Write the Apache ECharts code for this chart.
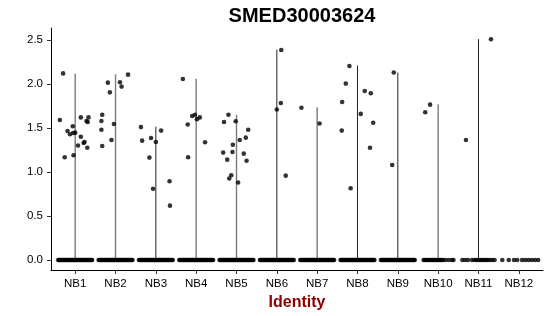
<!DOCTYPE html>
<html>
<head>
<meta charset="utf-8">
<script src="https://cdn.jsdelivr.net/npm/echarts@6/dist/echarts.min.js"></script>
<style>html,body{margin:0;padding:0;background:#fff}#c{width:550px;height:316px}</style>
</head>
<body>
<div id="c"></div>
<script>
// ---- data ----
const categories = ['NB1','NB2','NB3','NB4','NB5','NB6','NB7','NB8','NB9','NB10','NB11','NB12'];
const violinMax = [2.12, 2.11, 1.515, 2.06, 1.65, 2.39, 1.735, 2.21, 2.13, 1.77, 2.51, 0];
const violinDark = [0,0,1,0,0,1,0,1,1,0,1,0];
const yTicks = [0, 0.5, 1.0, 1.5, 2.0, 2.5];

// expressing points: [jitter offset, value]
const ptsNB1 = [[-0.30,2.12],[-0.38,1.59],[-0.19,1.466],[-0.13,1.428],[-0.06,1.519],[-0.05,1.443],[0.0,1.447],[0.14,1.40],[0.14,1.62],[0.28,1.58],[0.31,1.568],[0.33,1.62],[0.07,1.30],[0.21,1.33],[0.23,1.34],[0.30,1.276],[-0.26,1.167],[-0.04,1.19]];
const ptsNB2 = [[-0.19,2.015],[-0.14,1.905],[0.11,2.02],[0.15,1.97],[0.31,2.106],[-0.33,1.65],[-0.35,1.58],[-0.35,1.48],[-0.33,1.295],[-0.04,1.545],[-0.10,1.364]];
const ptsNB3 = [[-0.37,1.51],[-0.34,1.356],[-0.12,1.386],[0.0,1.34],[0.13,1.47],[-0.16,1.163],[0.34,0.894],[-0.07,0.81],[0.35,0.617]];
const ptsNB4 = [[-0.33,2.057],[-0.10,1.636],[-0.03,1.65],[0.02,1.60],[0.09,1.62],[-0.21,1.54],[0.22,1.337],[-0.20,1.167]];
const ptsNB5 = [[-0.20,1.65],[-0.31,1.568],[-0.02,1.576],[0.29,1.48],[0.23,1.39],[0.08,1.364],[-0.09,1.31],[-0.33,1.22],[-0.10,1.227],[0.18,1.208],[-0.23,1.14],[0.25,1.128],[-0.13,0.962],[-0.18,0.925],[0.04,0.88]];
const ptsNB6 = [[0.0,1.71],[0.10,1.784],[0.22,0.958],[0.11,2.386]];
const ptsNB7 = [[-0.39,1.73],[0.06,1.55]];
const ptsNB8 = [[-0.20,2.205],[-0.29,2.004],[-0.38,1.795],[0.18,1.92],[0.33,1.894],[0.08,1.66],[0.39,1.56],[-0.39,1.47],[0.31,1.276],[-0.17,0.815]];
const ptsNB9 = [[-0.10,2.13],[-0.14,1.08]];
const ptsNB10 = [[-0.20,1.765],[-0.32,1.678]];
const ptsNB11 = [[-0.31,1.364],[0.31,2.508]];
const ptsNB12 = [];
const positivePoints = [ptsNB1,ptsNB2,ptsNB3,ptsNB4,ptsNB5,ptsNB6,ptsNB7,ptsNB8,ptsNB9,ptsNB10,ptsNB11,ptsNB12];

// offsets of the cells with value 0 (dense clusters for NB1-NB9)
const zeroDense = [-0.42,-0.40,-0.38,-0.36,-0.34,-0.32,-0.30,-0.28,-0.26,-0.24,-0.22,-0.20,-0.18,-0.16,-0.14,-0.12,-0.10,-0.08,-0.06,-0.04,-0.02,0.0,0.02,0.04,0.06,0.08,0.10,0.12,0.14,0.16,0.18,0.20,0.22,0.24,0.26,0.28,0.30,0.32,0.34,0.36,0.38,0.40,0.42];
const zeroNB10 = [-0.36,-0.33,-0.30,-0.27,-0.24,-0.21,-0.18,-0.15,-0.12,-0.09,-0.06,-0.03,0.0,0.03,0.06,0.09,0.12,0.18,0.26,0.34,0.38];
const zeroNB11 = [-0.40,-0.33,-0.26,-0.16,-0.10,-0.05,-0.01,0.03,0.07,0.11,0.15,0.19,0.23,0.28,0.34,0.40];
const zeroNB12 = [-0.41,-0.25,-0.12,-0.04,0.08,0.16,0.24,0.32,0.40,0.48];
const zeroOffsets = [zeroDense,zeroDense,zeroDense,zeroDense,zeroDense,zeroDense,zeroDense,zeroDense,zeroDense,zeroNB10,zeroNB11,zeroNB12];

// ---- build ----
const scatterData = [];
positivePoints.forEach((arr, i) => arr.forEach(p => scatterData.push([i + 1 + p[0], p[1]])));
zeroOffsets.forEach((arr, i) => arr.forEach(o => scatterData.push([i + 1 + o, 0])));
const violinData = violinMax.map((m, i) => [i + 1, m, violinDark[i]]);

const chart = echarts.init(document.getElementById('c'), null, {renderer: 'canvas'});
chart.setOption({
  animation: false,
  backgroundColor: '#fff',
  title: {
    text: 'SMED30003624', left: 297, top: 1, textAlign: 'center',
    textStyle: {fontFamily: 'Liberation Sans', fontSize: 20, fontWeight: 'bold', color: '#000'}
  },
  grid: {left: 51, right: 7, top: 28, bottom: 46, containLabel: false, outerBoundsMode: 'none'},
  xAxis: {
    type: 'value', min: 0.4, max: 12.6,
    name: 'Identity', nameLocation: 'middle', nameGap: 21,
    nameTextStyle: {fontFamily: 'Liberation Sans', fontSize: 16, fontWeight: 'bold', color: '#8B0000'},
    axisLine: {show: true, onZero: false, lineStyle: {color: '#000', width: 1}},
    axisTick: {show: true, length: 4, customValues: [1,2,3,4,5,6,7,8,9,10,11,12], lineStyle: {color: '#333'}},
    axisLabel: {
      customValues: [1,2,3,4,5,6,7,8,9,10,11,12], margin: 8,
      fontFamily: 'Liberation Sans', fontSize: 11.5, color: '#000',
      formatter: v => categories[Math.round(v) - 1]
    },
    splitLine: {show: false}
  },
  yAxis: {
    type: 'value', min: -0.114, max: 2.636,
    axisLine: {show: true, onZero: false, lineStyle: {color: '#000', width: 1}},
    axisTick: {show: true, length: 4, customValues: yTicks, lineStyle: {color: '#333'}},
    axisLabel: {
      customValues: yTicks, margin: 8,
      fontFamily: 'Liberation Sans', fontSize: 11.5, color: '#000',
      formatter: v => v.toFixed(1)
    },
    splitLine: {show: false}
  },
  series: [
    {
      type: 'custom',
      data: violinData,
      z: 1,
      renderItem: (params, api) => {
        const x = api.value(0), m = api.value(1);
        if (m <= 0) return null;
        const p0 = api.coord([x, 0]);
        const p1 = api.coord([x, m]);
        return {
          type: 'line',
          shape: {x1: p0[0], y1: p0[1], x2: p1[0], y2: p1[1]},
          style: {stroke: api.value(2) ? '#222' : '#7a7a7a', lineWidth: api.value(2) ? 1 : 1.4}
        };
      }
    },
    {
      type: 'scatter',
      data: scatterData,
      symbolSize: 4.6,
      z: 2,
      itemStyle: {color: '#000'}
    }
  ]
});
</script>
</body>
</html>
